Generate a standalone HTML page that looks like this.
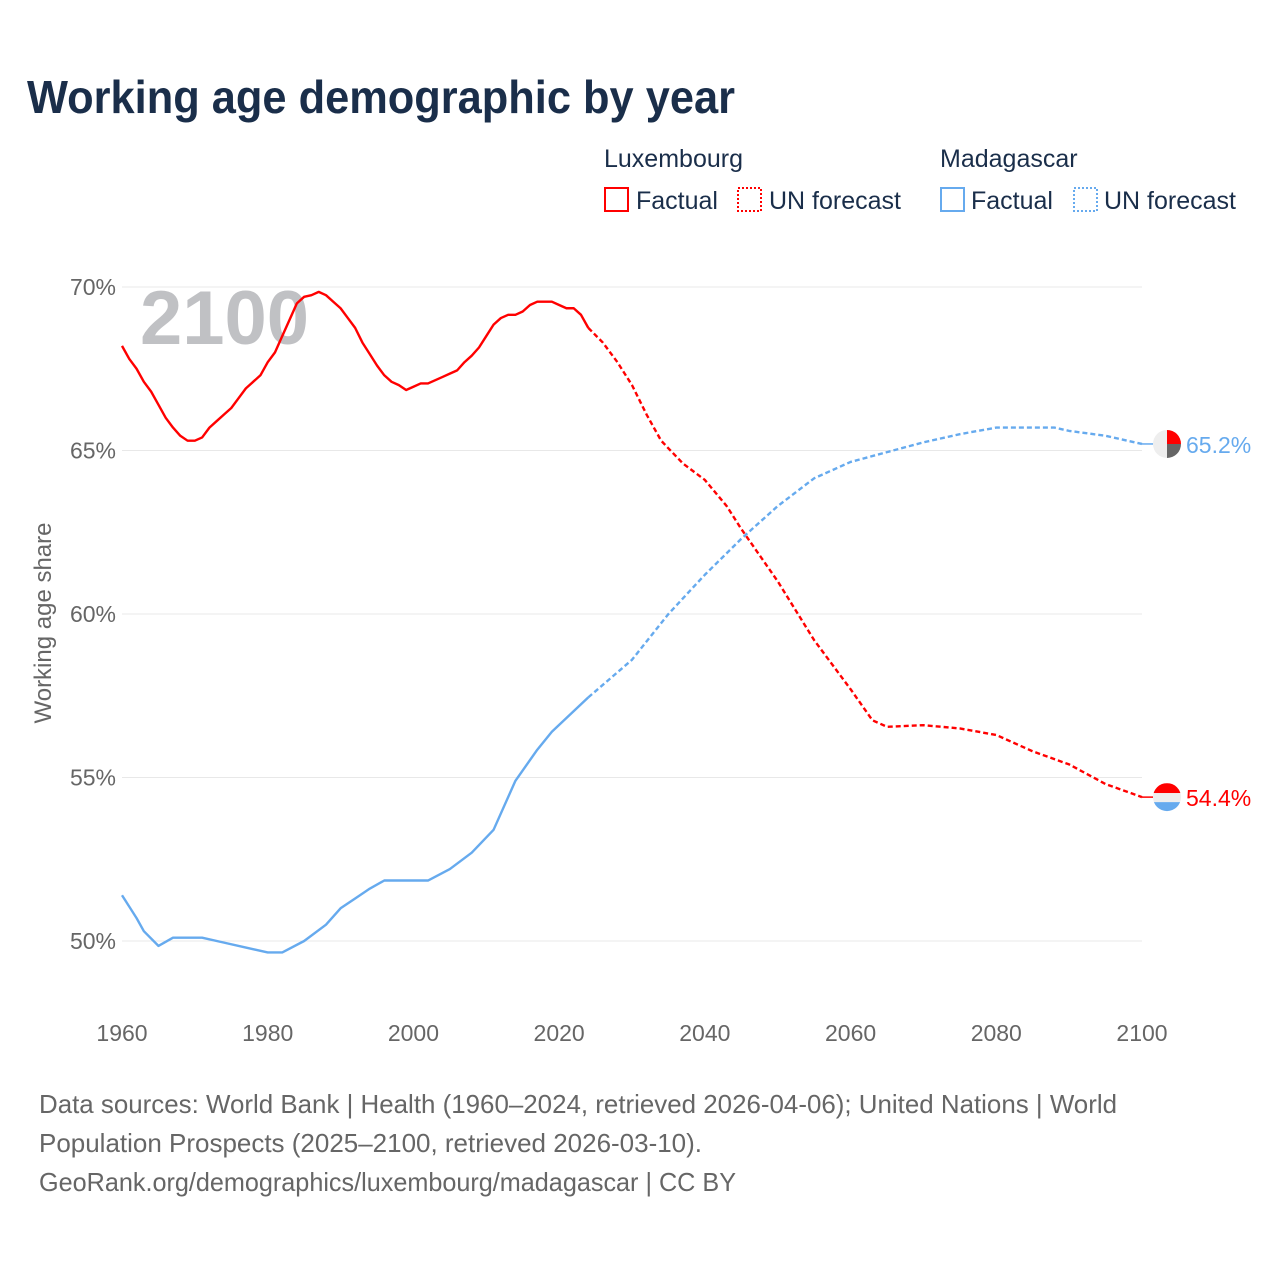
<!DOCTYPE html>
<html><head><meta charset="utf-8"><style>
body{margin:0;background:#fff;}
svg{display:block;font-family:"Liberation Sans",sans-serif;}
</style></head><body>
<svg id="chart" width="1280" height="1280" viewBox="0 0 1280 1280">
<text x="27" y="113" font-size="46" font-weight="bold" fill="#1a2e4a" textLength="708" lengthAdjust="spacingAndGlyphs">Working age demographic by year</text>
<g font-size="25" fill="#1a2e4a">
<text x="604" y="167">Luxembourg</text>
<text x="940" y="167">Madagascar</text>
<rect x="605" y="188" width="23" height="23" fill="none" stroke="#ff0000" stroke-width="2"/>
<text x="636" y="209">Factual</text>
<rect x="738" y="188" width="23" height="23" fill="none" stroke="#ff0000" stroke-width="2" stroke-dasharray="2,2"/>
<text x="769" y="209">UN forecast</text>
<rect x="941" y="188" width="23" height="23" fill="none" stroke="#66aaee" stroke-width="2"/>
<text x="971" y="209">Factual</text>
<rect x="1074" y="188" width="23" height="23" fill="none" stroke="#66aaee" stroke-width="2" stroke-dasharray="2,2"/>
<text x="1104" y="209">UN forecast</text>
</g>
<g id="grid"></g>
<text x="140" y="344" font-size="76" font-weight="bold" fill="#c0c1c4">2100</text>
<g id="series"></g>
<text transform="translate(51,623) rotate(-90)" text-anchor="middle" font-size="24" fill="#666">Working age share</text>
<g fill="#666">
<text x="39" y="1113" font-size="26" textLength="1078" lengthAdjust="spacingAndGlyphs">Data sources: World Bank | Health (1960–2024, retrieved 2026-04-06); United Nations | World</text>
<text x="39" y="1152" font-size="26" textLength="663" lengthAdjust="spacingAndGlyphs">Population Prospects (2025–2100, retrieved 2026-03-10).</text>
<text x="39" y="1191" font-size="26" textLength="697" lengthAdjust="spacingAndGlyphs">GeoRank.org/demographics/luxembourg/madagascar | CC BY</text>
</g>
</svg>
<script>
const yTicks=[50,55,60,65,70];
const xTicks=[1960,1980,2000,2020,2040,2060,2080,2100];
const luxYears=[1960,1961,1962,1963,1964,1965,1966,1967,1968,1969,1970,1971,1972,1973,1974,1975,1976,1977,1978,1979,1980,1981,1982,1983,1984,1985,1986,1987,1988,1989,1990,1991,1992,1993,1994,1995,1996,1997,1998,1999,2000,2001,2002,2003,2004,2005,2006,2007,2008,2009,2010,2011,2012,2013,2014,2015,2016,2017,2018,2019,2020,2021,2022,2023,2024];
const luxValues=[68.2,67.8,67.5,67.1,66.8,66.4,66.0,65.7,65.45,65.3,65.3,65.4,65.7,65.9,66.1,66.3,66.6,66.9,67.1,67.3,67.7,68.0,68.5,69.0,69.5,69.7,69.75,69.85,69.75,69.55,69.35,69.05,68.75,68.3,67.95,67.6,67.3,67.1,67.0,66.85,66.95,67.05,67.05,67.15,67.25,67.35,67.45,67.7,67.9,68.15,68.5,68.85,69.05,69.15,69.15,69.25,69.45,69.55,69.55,69.55,69.45,69.35,69.35,69.15,68.75];
const luxFcYears=[2024,2026,2028,2030,2032,2034,2037,2040,2043,2045,2050,2055,2060,2063,2065,2070,2075,2080,2085,2090,2095,2100];
const luxFcValues=[68.75,68.3,67.7,67.0,66.1,65.3,64.6,64.1,63.3,62.6,61.0,59.2,57.7,56.75,56.55,56.6,56.5,56.3,55.8,55.4,54.8,54.4];
const mdgYears=[1960,1962,1963,1965,1967,1971,1974,1977,1980,1982,1985,1988,1990,1992,1994,1996,2002,2005,2008,2011,2014,2017,2019,2024];
const mdgValues=[51.4,50.7,50.3,49.85,50.1,50.1,49.95,49.8,49.65,49.65,50.0,50.5,51.0,51.3,51.6,51.85,51.85,52.2,52.7,53.4,54.9,55.85,56.4,57.45];
const mdgFcYears=[2024,2030,2035,2040,2045,2050,2055,2060,2065,2070,2075,2080,2088,2090,2095,2100];
const mdgFcValues=[57.45,58.6,60.0,61.2,62.3,63.3,64.15,64.65,64.95,65.25,65.5,65.7,65.7,65.6,65.45,65.2];
const NS='http://www.w3.org/2000/svg';
const x=yr=>122+(yr-1960)*(1020/140);
const y=v=>941-(v-50)*(654/20);
const grid=document.getElementById('grid'),series=document.getElementById('series');
function mk(tag,attrs,parent){const e=document.createElementNS(NS,tag);for(const k in attrs)e.setAttribute(k,attrs[k]);parent.appendChild(e);return e;}
yTicks.forEach(t=>{
 const l=mk('line',{x1:122,x2:1142,y1:y(t),y2:y(t),stroke:'#e8e8e8','stroke-width':1},grid);
 
 
 const tx=mk('text',{x:116,y:y(t)+8,'text-anchor':'end','font-size':23,fill:'#666'},grid);
 tx.textContent=t+'%';
 
 
});
xTicks.forEach(t=>{
 const tx=mk('text',{x:x(t),y:1041,'text-anchor':'middle','font-size':23,fill:'#666'},grid);
 tx.textContent=t;
 
 
});
function line(xs,vs,color,dash,name){
 const p=mk('polyline',{points:xs.map((yr,i)=>x(yr)+','+y(vs[i])).join(' '),fill:'none',stroke:color,'stroke-width':2.4,'stroke-linejoin':'round'},series);
 if(dash)p.setAttribute('stroke-dasharray',dash);
 
 
}
line(luxYears,luxValues,'#ff0000',null,'luxembourg-factual-line');
line(luxFcYears,luxFcValues,'#ff0000','5,3','luxembourg-forecast-line');
line(mdgYears,mdgValues,'#66aaee',null,'madagascar-factual-line');
line(mdgFcYears,mdgFcValues,'#66aaee','5,3','madagascar-forecast-line');
const mEnd=mdgFcValues[mdgFcValues.length-1], lEnd=luxFcValues[luxFcValues.length-1];
const mx=1167, my=y(mEnd), ly=y(lEnd);
mk('line',{x1:x(2100),y1:y(mEnd),x2:mx-14,y2:my,stroke:'#66aaee','stroke-width':1.5},series);
mk('line',{x1:x(2100),y1:y(lEnd),x2:mx-14,y2:ly,stroke:'#ff0000','stroke-width':1.5},series);
const fm=mk('g',{},series);


mk('circle',{cx:mx,cy:my,r:14,fill:'#eeeeee'},fm);
mk('path',{d:`M${mx},${my} L${mx},${my-14} A14,14 0 0 1 ${mx+14},${my} Z`,fill:'#ff0000'},fm);
mk('path',{d:`M${mx},${my} L${mx+14},${my} A14,14 0 0 1 ${mx},${my+14} Z`,fill:'#666666'},fm);
const fl=mk('g',{},series);


mk('clipPath',{id:'lc'},fl);
mk('circle',{cx:mx,cy:ly,r:14},document.getElementById('lc'));
mk('rect',{x:mx-14,y:ly-14,width:28,height:10,fill:'#ff0000','clip-path':'url(#lc)'},fl);
mk('rect',{x:mx-14,y:ly-4,width:28,height:9,fill:'#eeeeee','clip-path':'url(#lc)'},fl);
mk('rect',{x:mx-14,y:ly+5,width:28,height:10,fill:'#66aaee','clip-path':'url(#lc)'},fl);
const t1=mk('text',{x:1186,y:my+9,'font-size':23,fill:'#66aaee'},series);
t1.textContent=mEnd.toFixed(1)+'%';


const t2=mk('text',{x:1186,y:ly+9,'font-size':23,fill:'#ff0000'},series);
t2.textContent=lEnd.toFixed(1)+'%';


</script>
</body></html>
